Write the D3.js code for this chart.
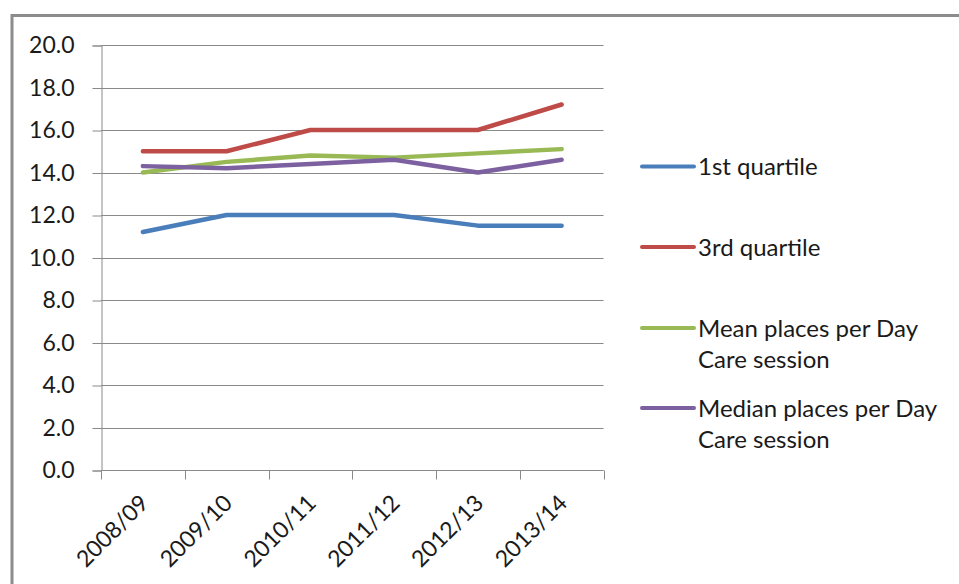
<!DOCTYPE html>
<html>
<head>
<meta charset="utf-8">
<script src="https://cdn.jsdelivr.net/npm/d3@7"></script>
<style>
  html, body { margin: 0; padding: 0; background: #fff; }
  svg { display: block; }
  text { font-family: Lato, "Open Sans", "Liberation Sans", sans-serif; fill: #1a1a1a; }
</style>
</head>
<body>
<svg id="chart" width="959" height="584"></svg>
<script>
// Day Care session places, by financial year
const years = ["2008/09", "2009/10", "2010/11", "2011/12", "2012/13", "2013/14"];
const firstQuartile = [11.2, 12.0, 12.0, 12.0, 11.5, 11.5];
const thirdQuartile = [15.0, 15.0, 16.0, 16.0, 16.0, 17.2];
const meanPlaces    = [14.0, 14.5, 14.8, 14.7, 14.9, 15.1];
const medianPlaces  = [14.3, 14.2, 14.4, 14.6, 14.0, 14.6];
const yTicks = [0, 2, 4, 6, 8, 10, 12, 14, 16, 18, 20];

const series = [
  { name: ["1st quartile"], values: firstQuartile, color: "#4a7ebb" },
  { name: ["3rd quartile"], values: thirdQuartile, color: "#be4b48" },
  { name: ["Mean places per Day", "Care session"], values: meanPlaces, color: "#98b954" },
  { name: ["Median places per Day", "Care session"], values: medianPlaces, color: "#7d60a0" }
];

const svg = d3.select("#chart");

// outer chart frame
svg.append("path")
  .attr("d", "M12,600 L12,15.5 L980,15.5")
  .attr("fill", "none")
  .attr("stroke", "#8c8c8c")
  .attr("stroke-width", 3);

const plotLeft = 101, plotRight = 603.5, plotTop = 45, plotBottom = 470;

const x = d3.scaleBand().domain(years).range([plotLeft, plotRight]);
const y = d3.scaleLinear().domain([0, 20]).range([plotBottom, plotTop]);

// horizontal gridlines
svg.append("g")
  .selectAll("line")
  .data(yTicks)
  .join("line")
  .attr("x1", plotLeft).attr("x2", plotRight)
  .attr("y1", d => Math.round(y(d)) + 0.5).attr("y2", d => Math.round(y(d)) + 0.5)
  .attr("stroke", "#8a8a8a").attr("stroke-width", 1);

// y axis
const yAxis = svg.append("g")
  .attr("transform", `translate(${plotLeft + 0.5},0.5)`)
  .call(d3.axisLeft(y).tickValues(yTicks).tickFormat(d3.format(".1f")).tickSize(9).tickPadding(18));
yAxis.select(".domain").attr("stroke", "#8a8a8a");
yAxis.selectAll(".tick line").attr("stroke", "#8a8a8a");
yAxis.selectAll(".tick text")
  .attr("font-size", 23)
  .attr("font-family", "Lato, 'Open Sans', sans-serif")
  .attr("fill", "#1a1a1a");

// x axis with ticks at category boundaries
const xAxisG = svg.append("g").attr("transform", `translate(0,${Math.round(plotBottom) + 0.5})`);
xAxisG.append("line")
  .attr("x1", plotLeft).attr("x2", plotRight)
  .attr("stroke", "#8a8a8a");
const bounds = years.map(d => x(d)).concat([x(years[years.length - 1]) + x.bandwidth()]);
xAxisG.selectAll("line.tk")
  .data(bounds)
  .join("line")
  .attr("class", "tk")
  .attr("x1", d => Math.round(d) + 0.5).attr("x2", d => Math.round(d) + 0.5)
  .attr("y1", 0).attr("y2", 9)
  .attr("stroke", "#8a8a8a");
xAxisG.selectAll("text")
  .data(years)
  .join("text")
  .attr("transform", d => `translate(${x(d) + x.bandwidth() / 2 + 7},${34}) rotate(-45)`)
  .attr("text-anchor", "end")
  .attr("font-size", 23)
  .text(d => d);

// series lines
const line = d3.line()
  .x((d, i) => x(years[i]) + x.bandwidth() / 2)
  .y(d => y(d));

svg.append("g")
  .selectAll("path")
  .data(series)
  .join("path")
  .attr("d", d => line(d.values))
  .attr("fill", "none")
  .attr("stroke", d => d.color)
  .attr("stroke-width", 4.5)
  .attr("stroke-linejoin", "round")
  .attr("stroke-linecap", "round");

// legend
const legendY = [166.5, 247, 328, 408];
const legend = svg.append("g");
series.forEach((s, i) => {
  const g = legend.append("g").attr("transform", `translate(0,${legendY[i]})`);
  g.append("line")
    .attr("x1", 642).attr("x2", 694)
    .attr("stroke", s.color).attr("stroke-width", 4).attr("stroke-linecap", "round");
  s.name.forEach((t, j) => {
    g.append("text")
      .attr("x", 698).attr("y", j * 31)
      .attr("dy", "0.36em")
      .attr("font-size", 24)
      .text(t);
  });
});
</script>
</body>
</html>
